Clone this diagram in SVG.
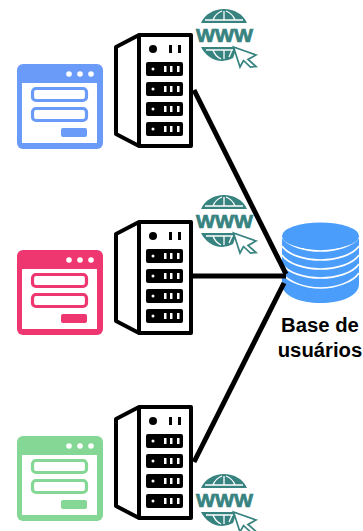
<svg xmlns="http://www.w3.org/2000/svg" width="363" height="531" viewBox="0 0 363 531">
<style>
.o{fill:#fff;stroke:#000;stroke-width:4;stroke-linejoin:round}
.k{fill:#000}.w{fill:#fff}
.t{fill:#37837f}
.c{fill:#fff;stroke:#37837f;stroke-width:1.7;stroke-linejoin:miter}
.g{stroke:#fff;stroke-width:1.3;fill:none}
.cn{stroke:#000;stroke-width:5;fill:none;stroke-linecap:butt}
.lb{font:bold 20.300px "Liberation Sans",Arial,sans-serif;fill:#000;text-anchor:middle}
.www{font:bold 18.500px "Liberation Sans",Arial,sans-serif;fill:#37837f;stroke:#37837f;stroke-width:.7;text-anchor:middle}
</style>
<defs>
<g id="srv">
<path class="o" d="M24 2H76V113H24L1 101V14Z"/>
<path class="o" d="M24 2V113"/>
<circle class="k" cx="38" cy="16" r="4"/>
<rect class="k" x="54" y="12" width="3" height="8"/><rect class="k" x="63" y="12" width="3" height="8"/>
<g id="bay"><rect class="k" x="31" y="29" width="37" height="14" rx="2"/><circle class="w" cx="38" cy="36" r="1.500"/><rect class="w" x="49" y="33" width="2.500" height="6"/><rect class="w" x="55" y="33" width="2.500" height="6"/><rect class="w" x="62" y="33" width="2.500" height="6"/></g>
<use href="#bay" y="20"/><use href="#bay" y="40"/><use href="#bay" y="60"/>
</g>
<g id="web">
<path class="t" d="M201 23C205 14 214 9 224 9C234 9 243 14 247 23Z"/>
<path class="g" d="M205 20H243M213 20Q215 14 222 11M235 20Q233 14 226 11M224 11V20"/>
<text class="www" x="224.500" y="42" textLength="57" lengthAdjust="spacingAndGlyphs">WWW</text>
<path class="t" d="M201 47H237L233 58Q228 61 222 61C213 61 205 55 201 47Z"/>
<path class="g" d="M206 50H233M213 50Q215 56 221 59M224 50V59M232 50L229 57"/>
<path class="c" d="M233.500 47L256 55L248 59.500L256 66.500L250.500 67L243.500 60.500L240 67Z"/>
</g>
<g id="form">
<rect x="15.500" y="24.500" width="54" height="12" rx="3.500" fill="#fff" stroke="currentColor" stroke-width="3.200"/>
<rect x="15.500" y="44.500" width="54" height="12" rx="3.500" fill="#fff" stroke="currentColor" stroke-width="3.200"/>
</g>
</defs>
<g id="db">
<path fill="#4a9dfb" d="M282 284C282 296 300 303 320.500 303S359 296 359 284V236H282Z"/>
<path d="M282 246C288 255 305 260 320.500 260S353 255 359 246M282 255C288 264 305 269 320.500 269S353 264 359 255M282 264C288 273 305 278 320.500 278S353 273 359 264M282 273C288 282 305 288 320.500 288S353 282 359 273M282 237C288 246 305 251 320.500 251S353 246 359 237" fill="none" stroke="#fff" stroke-width="1.600"/>
<ellipse cx="320.500" cy="236" rx="38.500" ry="13.500" fill="#4a9dfb"/>
<text class="lb" x="320" y="332">Base de</text>
<text class="lb" x="320" y="357">usuários</text>
</g>
<g id="connectors">
<path class="cn" d="M194 90L286 274"/>
<path class="cn" d="M192 276H286"/>
<path class="cn" d="M194 462L284 283"/>
</g>
<g id="app1" transform="translate(17 64)" color="#6b9bf8">
<rect width="86" height="85" rx="6" fill="#6b9bf8"/>
<rect x="5" y="19" width="75" height="60" fill="#fff"/>
<circle class="w" cx="52" cy="10" r="2.800"/><circle class="w" cx="63" cy="10" r="2.800"/><circle class="w" cx="74" cy="10" r="2.800"/>
<use href="#form"/>
<rect x="44" y="64" width="26" height="9" rx="2" fill="#6b9bf8"/>
</g>
<g id="app2" transform="translate(17 250)" color="#ee3670">
<rect width="86" height="85" rx="6" fill="#ee3670"/>
<rect x="5" y="19" width="75" height="60" fill="#fff"/>
<circle class="w" cx="52" cy="10" r="2.800"/><circle class="w" cx="63" cy="10" r="2.800"/><circle class="w" cx="74" cy="10" r="2.800"/>
<use href="#form"/>
<rect x="44" y="64" width="26" height="9" rx="2" fill="#ee3670"/>
</g>
<g id="app3" transform="translate(17 436)" color="#85d795">
<rect width="86" height="85" rx="6" fill="#85d795"/>
<rect x="5" y="19" width="75" height="60" fill="#fff"/>
<circle class="w" cx="52" cy="10" r="2.800"/><circle class="w" cx="63" cy="10" r="2.800"/><circle class="w" cx="74" cy="10" r="2.800"/>
<use href="#form"/>
<rect x="44" y="64" width="26" height="9" rx="2" fill="#85d795"/>
</g>
<g id="server1" transform="translate(115 33)"><use href="#srv"/></g>
<g id="server2" transform="translate(115 220)"><use href="#srv"/></g>
<g id="server3" transform="translate(115 405)"><use href="#srv"/></g>
<g id="www1"><use href="#web"/></g>
<g id="www2" transform="translate(0 186)"><use href="#web"/></g>
<g id="www3" transform="translate(0 465)"><use href="#web"/></g>
</svg>
